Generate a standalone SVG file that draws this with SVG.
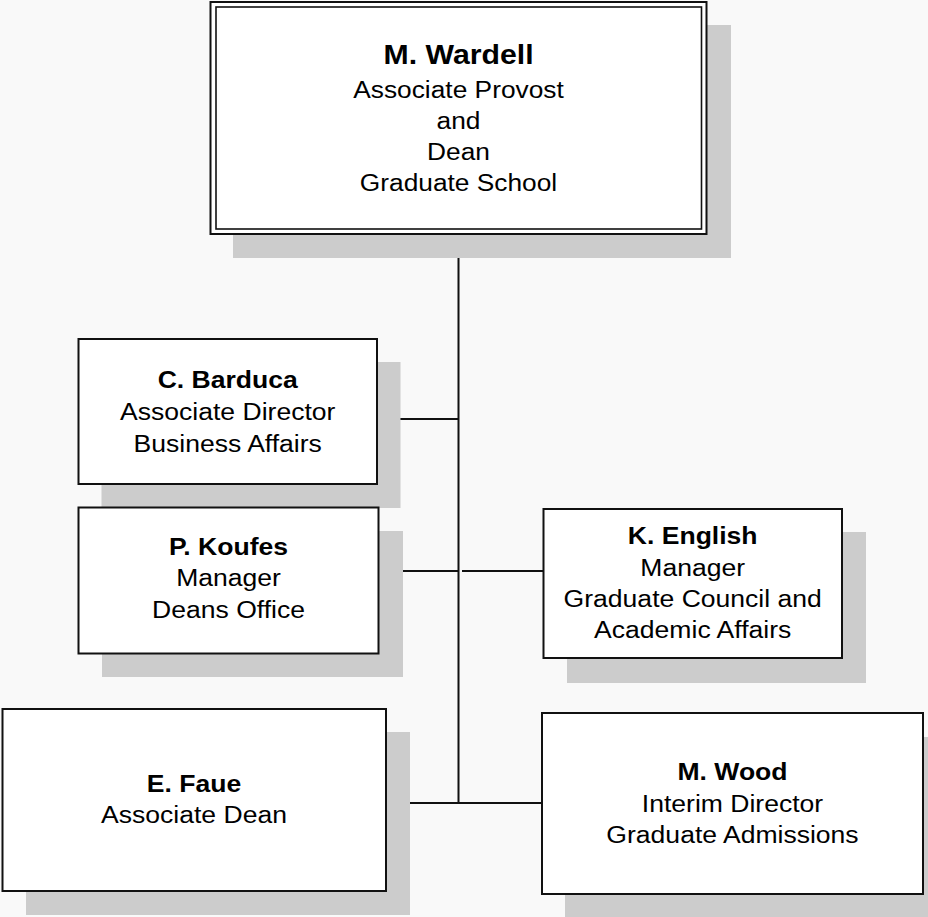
<svg xmlns="http://www.w3.org/2000/svg" width="928" height="917" viewBox="0 0 928 917">
<style>
.bg{fill:#f9f9f9}
.sh{fill:#cccccc}
.box{fill:#ffffff;stroke:#111111;stroke-width:2}
.inner{fill:none;stroke:#111111;stroke-width:1.6}
.ln{stroke:#111111;stroke-width:2;fill:none}
text{font-family:"Liberation Sans",Arial,sans-serif;font-size:23.5px;fill:#000;text-anchor:middle}
.b{font-weight:bold}
.big{font-size:27px;font-weight:bold}
</style>
<rect class="bg" x="0" y="0" width="928" height="917"/>
<g id="connectors">
<line class="ln" x1="458.5" y1="234" x2="458.5" y2="803"/>
<line class="ln" x1="382" y1="419" x2="458.5" y2="419"/>
<line class="ln" x1="382" y1="571" x2="458" y2="571"/>
<line class="ln" x1="462" y1="571" x2="543" y2="571"/>
<line class="ln" x1="382" y1="803" x2="542" y2="803"/>
</g>
<g id="wardell">
<rect class="sh" x="233" y="25" width="498" height="233"/>
<rect class="box" x="210.5" y="2" width="496" height="232"/>
<rect class="inner" x="216" y="7" width="485.5" height="222"/>
<g transform="translate(458.5,0) scale(1.12,1)">
<text class="big" x="0" y="64">M. Wardell</text>
<text x="0" y="98">Associate Provost</text>
<text x="0" y="129">and</text>
<text x="0" y="160">Dean</text>
<text x="0" y="191">Graduate School</text>
</g>
</g>
<g id="barduca">
<rect class="sh" x="101.5" y="362" width="299" height="146"/>
<rect class="box" x="78.5" y="339" width="298.5" height="145"/>
<g transform="translate(227.7,0) scale(1.13,1)">
<text class="b" x="0" y="388">C. Barduca</text>
<text x="0" y="420">Associate Director</text>
<text x="0" y="452">Business Affairs</text>
</g>
</g>
<g id="koufes">
<rect class="sh" x="102" y="531" width="301" height="146"/>
<rect class="box" x="78.5" y="507.5" width="300" height="146"/>
<g transform="translate(228.5,0) scale(1.13,1)">
<text class="b" x="0" y="555">P. Koufes</text>
<text x="0" y="586">Manager</text>
<text x="0" y="618">Deans Office</text>
</g>
</g>
<g id="english">
<rect class="sh" x="567" y="532" width="299" height="151"/>
<rect class="box" x="543.5" y="509" width="298.5" height="149"/>
<g transform="translate(692.7,0) scale(1.13,1)">
<text class="b" x="0" y="544">K. English</text>
<text x="0" y="576">Manager</text>
<text x="0" y="607">Graduate Council and</text>
<text x="0" y="638">Academic Affairs</text>
</g>
</g>
<g id="faue">
<rect class="sh" x="26" y="732" width="384" height="183"/>
<rect class="box" x="2.5" y="709" width="383.5" height="182"/>
<g transform="translate(194,0) scale(1.13,1)">
<text class="b" x="0" y="792">E. Faue</text>
<text x="0" y="823">Associate Dean</text>
</g>
</g>
<g id="wood">
<rect class="sh" x="565" y="737" width="382" height="185"/>
<rect class="box" x="542" y="713" width="381" height="181"/>
<g transform="translate(732.5,0) scale(1.13,1)">
<text class="b" x="0" y="780">M. Wood</text>
<text x="0" y="812">Interim Director</text>
<text x="0" y="843">Graduate Admissions</text>
</g>
</g>
</svg>
